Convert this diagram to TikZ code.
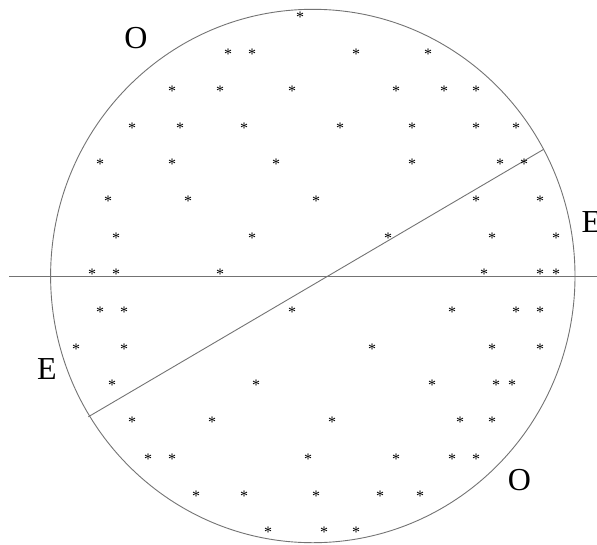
\documentclass[tikz,border=0pt]{standalone}
\usepackage{fontspec}
\setmainfont{Liberation Serif}
\begin{document}
\begin{tikzpicture}[x=1pt,y=-1pt,
  ast/.style={anchor=base,inner sep=0pt,font=\fontsize{16}{16}\selectfont,yshift=-7.5pt},
  lbl/.style={anchor=base,inner sep=0pt,font=\fontsize{32}{32}\selectfont},
  thinline/.style={draw=black!55,line width=0.9pt}]
\useasboundingbox (0,0) rectangle (597,544);
\coordinate (c) at (312.8,276);
\draw[thinline] (c) ellipse [x radius=262.2pt, y radius=266.7pt];
\coordinate (hl) at (9,276);
\coordinate (hr) at (597,276);
\draw[thinline] (hl) -- (hr);
\coordinate (dtop) at (543.7,149.3);
\coordinate (dbot) at (88.3,416.8);
\draw[thinline] (dbot) -- (dtop);
\node[lbl] (o1) at (136,48) {O};
\node[lbl] (o2) at (519.5,490) {O};
\node[lbl,anchor=base west] (e1) at (37,379) {E};
\node[lbl,anchor=base west] (e2) at (581.5,232) {E};
\foreach \x/\y [count=\i] in {
 300/15,
 228/52, 252/52, 356/52, 428/52,
 172/89, 220/89, 292/89, 396/89, 444/89, 476/89,
 132/126, 180/126, 244/126, 340/126, 412/126, 476/126, 516/126,
 100/162, 172/162, 276/162, 412/162, 500/162, 524/162,
 108/199, 188/199, 316/199, 476/199, 540/199,
 116/236, 252/236, 388/236, 492/236, 556/236,
 92/272, 116/272, 220/272, 484/272, 540/272, 556/272,
 100/310, 124/310, 292/310, 452/310, 516/310, 540/310,
 76/347, 124/347, 372/347, 492/347, 540/347,
 112/383, 256/383, 432/383, 496/383, 512/383,
 132/420, 212/420, 332/420, 460/420, 492/420,
 148/457, 172/457, 308/457, 396/457, 452/457, 476/457,
 196/494, 244/494, 316/494, 380/494, 420/494,
 268/530, 324/530, 356/530}
 \node[ast] (s\i) at (\x,\y) {*};
\end{tikzpicture}
\end{document}
